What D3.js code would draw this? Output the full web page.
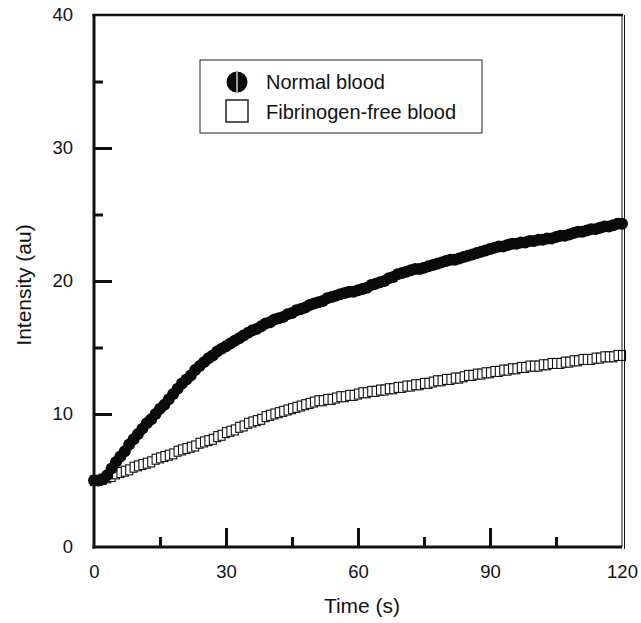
<!DOCTYPE html>
<html>
<head>
<meta charset="utf-8">
<script src="https://cdn.jsdelivr.net/npm/d3@7/dist/d3.min.js"></script>
<style>
html,body{margin:0;padding:0;background:#fff;}
svg text{font-family:"Liberation Sans",Arial,sans-serif;fill:#111;}
</style>
</head>
<body>
<svg id="chart" width="641" height="623"></svg>
<script>
// ---- data ----
const time = [0,1,2,3,4,5,6,7,8,9,10,11,12,13,14,15,16,17,18,19,20,21,22,23,24,25,26,27,28,29,30,31,32,33,34,35,36,37,38,39,40,41,42,43,44,45,46,47,48,49,50,51,52,53,54,55,56,57,58,59,60,61,62,63,64,65,66,67,68,69,70,71,72,73,74,75,76,77,78,79,80,81,82,83,84,85,86,87,88,89,90,91,92,93,94,95,96,97,98,99,100,101,102,103,104,105,106,107,108,109,110,111,112,113,114,115,116,117,118,119,120];
const normalBlood = [5.0,5.0,5.1,5.4,5.9,6.4,6.8,7.2,7.7,8.1,8.5,
8.9,9.3,9.6,10.0,10.4,10.7,11.1,11.5,11.9,12.3,
12.6,12.9,13.3,13.6,13.9,14.2,14.4,14.7,14.9,15.1,
15.3,15.5,15.7,15.9,16.1,16.3,16.4,16.6,16.8,16.9,
17.1,17.2,17.3,17.5,17.6,17.8,17.9,18.0,18.2,18.3,
18.4,18.5,18.7,18.8,18.9,19.0,19.1,19.2,19.2,19.3,
19.4,19.5,19.7,19.8,19.9,20.0,20.2,20.3,20.5,20.6,
20.7,20.8,20.9,20.9,21.0,21.1,21.2,21.3,21.4,21.5,
21.6,21.6,21.7,21.8,21.9,22.0,22.1,22.2,22.3,22.4,
22.5,22.6,22.6,22.7,22.8,22.8,22.9,22.9,23.0,23.0,
23.1,23.1,23.2,23.2,23.3,23.4,23.4,23.5,23.6,23.7,
23.7,23.8,23.9,23.9,24.0,24.1,24.1,24.2,24.3,24.3];
const fibrinogenFree = [5.0,5.0,5.1,5.2,5.3,5.5,5.6,5.7,5.8,6.0,6.1,
6.2,6.3,6.4,6.6,6.7,6.8,6.9,7.0,7.2,7.3,
7.4,7.5,7.6,7.8,7.9,8.0,8.1,8.3,8.4,8.6,
8.7,8.8,9.0,9.1,9.3,9.4,9.5,9.6,9.8,9.9,
10.0,10.1,10.2,10.3,10.4,10.5,10.6,10.7,10.8,10.9,
11.0,11.0,11.1,11.1,11.2,11.3,11.3,11.4,11.4,11.5,
11.6,11.6,11.7,11.7,11.8,11.8,11.9,11.9,12.0,12.0,
12.1,12.1,12.2,12.2,12.3,12.3,12.4,12.5,12.5,12.6,
12.6,12.7,12.7,12.8,12.9,12.9,13.0,13.0,13.1,13.1,
13.2,13.2,13.3,13.3,13.4,13.4,13.5,13.5,13.6,13.6,
13.6,13.7,13.7,13.8,13.8,13.8,13.9,13.9,14.0,14.0,
14.1,14.1,14.1,14.2,14.2,14.3,14.3,14.3,14.4,14.4];
const xMajorTicks = [0,30,60,90,120];
const xMinorTicks = [15,45,75,105];
const yMajorTicks = [0,10,20,30,40];
const yMinorTicks = [5,15,25,35];
const seriesNames = ["Normal blood","Fibrinogen-free blood"];
const xTitle = "Time (s)";
const yTitle = "Intensity (au)";

// ---- layout ----
const svg = d3.select("#chart");
const L = 94, R = 622, T = 15, B = 547;
const x = d3.scaleLinear().domain([0,120]).range([L,R]);
const y = d3.scaleLinear().domain([0,40]).range([B,T]);

// data: squares first, then circles
const g = svg.append("g");
g.selectAll("rect.ff").data(time).enter().append("rect")
  .attr("class","ff")
  .attr("x", d=>x(d)-3.5)
  .attr("y", (d,i)=>y(fibrinogenFree[i])-5)
  .attr("width",7).attr("height",10)
  .attr("fill","#fff").attr("stroke","#111").attr("stroke-width",1.1);
g.selectAll("circle.nb").data(time).enter().append("circle")
  .attr("class","nb")
  .attr("cx", d=>x(d))
  .attr("cy", (d,i)=>y(normalBlood[i]))
  .attr("r",6)
  .attr("fill","#0a0a0a");

// frame
svg.append("line").attr("x1",L).attr("x2",L).attr("y1",T-1).attr("y2",B+1.5).attr("stroke","#111").attr("stroke-width",3);
svg.append("line").attr("x1",L-1.5).attr("x2",R).attr("y1",B).attr("y2",B).attr("stroke","#111").attr("stroke-width",3);
svg.append("line").attr("x1",L-1.5).attr("x2",R+1).attr("y1",T).attr("y2",T).attr("stroke","#111").attr("stroke-width",2.5);
svg.append("line").attr("x1",R).attr("x2",R).attr("y1",T).attr("y2",B).attr("stroke","#111").attr("stroke-width",1);
svg.append("line").attr("x1",R+2.5).attr("x2",R+2.5).attr("y1",T).attr("y2",B+2).attr("stroke","#111").attr("stroke-width",1);

// y axis (inward ticks)
const yAx = svg.append("g").attr("transform",`translate(${L},0)`)
  .call(d3.axisRight(y).tickValues(yMajorTicks.filter(v=>v>0 && v<40)).tickSize(18).tickFormat(""));
yAx.select(".domain").remove();
yAx.selectAll("line").attr("stroke","#111").attr("stroke-width",3);
const yAxm = svg.append("g").attr("transform",`translate(${L},0)`)
  .call(d3.axisRight(y).tickValues(yMinorTicks).tickSize(9).tickFormat(""));
yAxm.select(".domain").remove();
yAxm.selectAll("line").attr("stroke","#111").attr("stroke-width",3);
const yLab = svg.append("g").attr("transform",`translate(${L},0)`)
  .call(d3.axisLeft(y).tickValues(yMajorTicks).tickSize(0).tickPadding(21).tickFormat(d3.format("d")));
yLab.select(".domain").remove();
yLab.selectAll("text").attr("font-size",18.5).attr("font-family","Liberation Sans, Arial, sans-serif").attr("fill","#111");

// x axis
const xAx = svg.append("g").attr("transform",`translate(0,${B})`)
  .call(d3.axisTop(x).tickValues(xMajorTicks.filter(v=>v>0 && v<120)).tickSize(19).tickFormat(""));
xAx.select(".domain").remove();
xAx.selectAll("line").attr("stroke","#111").attr("stroke-width",3);
const xAxm = svg.append("g").attr("transform",`translate(0,${B})`)
  .call(d3.axisTop(x).tickValues(xMinorTicks).tickSize(10).tickFormat(""));
xAxm.select(".domain").remove();
xAxm.selectAll("line").attr("stroke","#111").attr("stroke-width",3);
const xLab = svg.append("g").attr("transform",`translate(0,${B})`)
  .call(d3.axisBottom(x).tickValues(xMajorTicks).tickSize(0).tickPadding(18).tickFormat(d3.format("d")));
xLab.select(".domain").remove();
xLab.selectAll("text").attr("font-size",18.5).attr("font-family","Liberation Sans, Arial, sans-serif").attr("fill","#111");

// titles
svg.append("text").attr("x",362).attr("y",613).attr("text-anchor","middle")
  .attr("font-size",21).text(xTitle);
svg.append("text").attr("transform","translate(31,285) rotate(-90)").attr("text-anchor","middle")
  .attr("font-size",21).text(yTitle);

// legend
svg.append("rect").attr("x",200).attr("y",60).attr("width",282).attr("height",73)
  .attr("fill","#fff").attr("stroke","#222").attr("stroke-width",1);
svg.append("circle").attr("cx",237).attr("cy",82).attr("r",10.5).attr("fill","#0a0a0a");
svg.append("line").attr("x1",237).attr("x2",237).attr("y1",72).attr("y2",92).attr("stroke","#fff").attr("stroke-width",1.2);
svg.append("rect").attr("x",226).attr("y",100).attr("width",22).attr("height",22)
  .attr("fill","#fff").attr("stroke","#111").attr("stroke-width",1.4);
svg.append("text").attr("x",266).attr("y",89).attr("font-size",20).text(seriesNames[0]);
svg.append("text").attr("x",266).attr("y",119).attr("font-size",20).text(seriesNames[1]);
</script>
</body>
</html>
